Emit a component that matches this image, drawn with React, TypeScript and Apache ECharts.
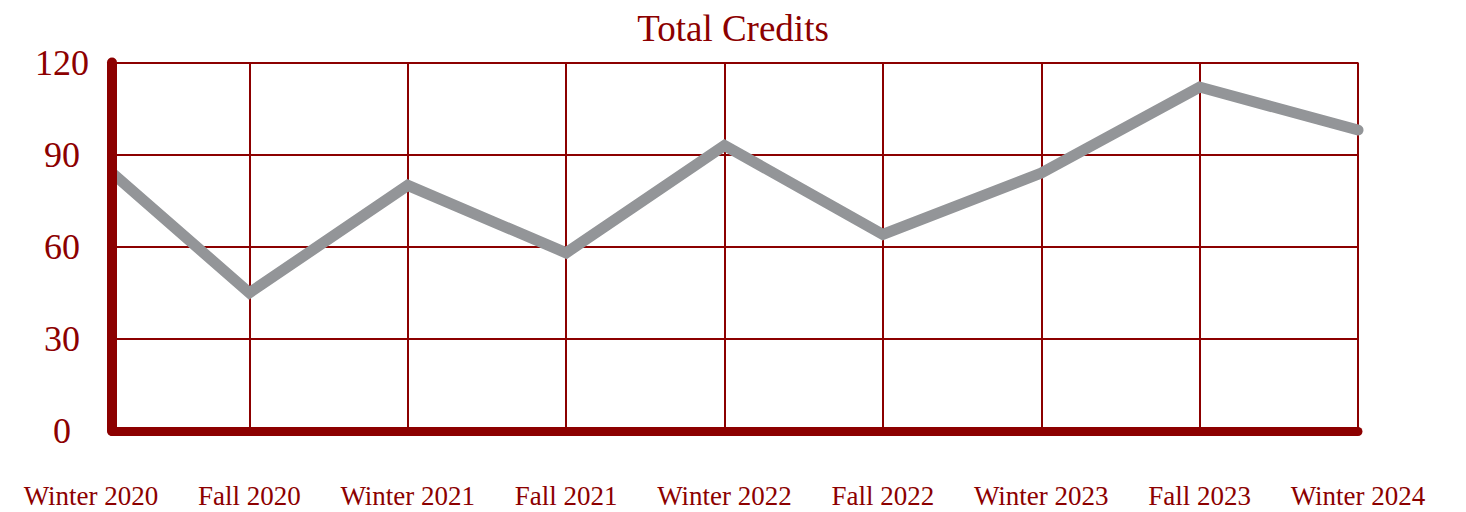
import React, { useEffect, useRef } from "react";
import * as echarts from "echarts";

const categories = [
  "Winter 2020",
  "Fall 2020",
  "Winter 2021",
  "Fall 2021",
  "Winter 2022",
  "Fall 2022",
  "Winter 2023",
  "Fall 2023",
  "Winter 2024",
];
const credits = [90, 45, 80, 58, 93, 64, 84, 112, 98];
const yMin = 0;
const yMax = 120;
const yStep = 30;
const titleText = "Total Credits";

const RED = "#8c0000";
const GRAY = "#939598";
const FONT = "Liberation Serif";

export default function App() {
  const ref = useRef<HTMLDivElement>(null);
  useEffect(() => {
    if (!ref.current) return;
    const chart = echarts.init(ref.current, undefined, { renderer: "svg" });
    const axisX = 112;
    const labelLeft = 91;
    const right = 108;
    const lineW = 11;
    const seriesLeft = axisX + 5 + lineW / 2; // clip edge lands on the axis' right edge
    const step = (1466 - labelLeft - right) / (categories.length - 1);
    const top = 62.5;
    const bottom = 81;
    chart.setOption({
      animation: false,
      backgroundColor: "#ffffff",
      title: {
        text: titleText,
        left: "center",
        top: 5,
        textStyle: { color: RED, fontFamily: FONT, fontSize: 37, fontWeight: "normal" },
      },
      grid: [
        { left: axisX, right, top, bottom },
        { left: labelLeft, right, top, bottom },
        { left: seriesLeft, right, top, bottom },
      ],
      xAxis: [
        {
          gridIndex: 0,
          type: "value",
          min: 0,
          max: 1,
          axisLine: { show: true, onZero: false, lineStyle: { color: RED, width: 9, cap: "round" } },
          axisTick: { show: false },
          axisLabel: { show: false },
          splitLine: { show: false },
        },
        {
          gridIndex: 1,
          type: "category",
          data: categories,
          boundaryGap: false,
          axisLine: { show: false },
          axisTick: { show: false },
          axisLabel: { interval: 0, margin: 51, fontSize: 27, fontFamily: FONT, color: RED },
          splitLine: {
            show: true,
            interval: (i: number) => i > 0,
            lineStyle: { color: RED, width: 2 },
          },
        },
        {
          gridIndex: 2,
          type: "value",
          min: (seriesLeft - labelLeft) / step,
          max: categories.length - 1,
          show: false,
        },
      ],
      yAxis: [
        {
          gridIndex: 0,
          type: "value",
          min: yMin,
          max: yMax,
          interval: yStep,
          axisLine: { show: true, lineStyle: { color: RED, width: 10, cap: "round" } },
          axisTick: { show: false },
          splitLine: { show: true, lineStyle: { color: RED, width: 2 } },
          axisLabel: { margin: 50, align: "center", fontSize: 36, fontFamily: FONT, color: RED },
        },
        { gridIndex: 1, type: "value", min: yMin, max: yMax, show: false },
        { gridIndex: 2, type: "value", min: yMin, max: yMax, show: false },
      ],
      series: [
        {
          type: "line",
          xAxisIndex: 2,
          yAxisIndex: 2,
          data: categories.map((_, i) => [i, credits[i]]),
          showSymbol: false,
          lineStyle: { color: GRAY, width: lineW, cap: "round", join: "miter" },
          z: 2,
        },
      ],
    });
    return () => chart.dispose();
  }, []);
  return (
    <div
      ref={ref}
      style={{ position: "fixed", left: 0, top: 0, width: 1466, height: 512 }}
    />
  );
}
